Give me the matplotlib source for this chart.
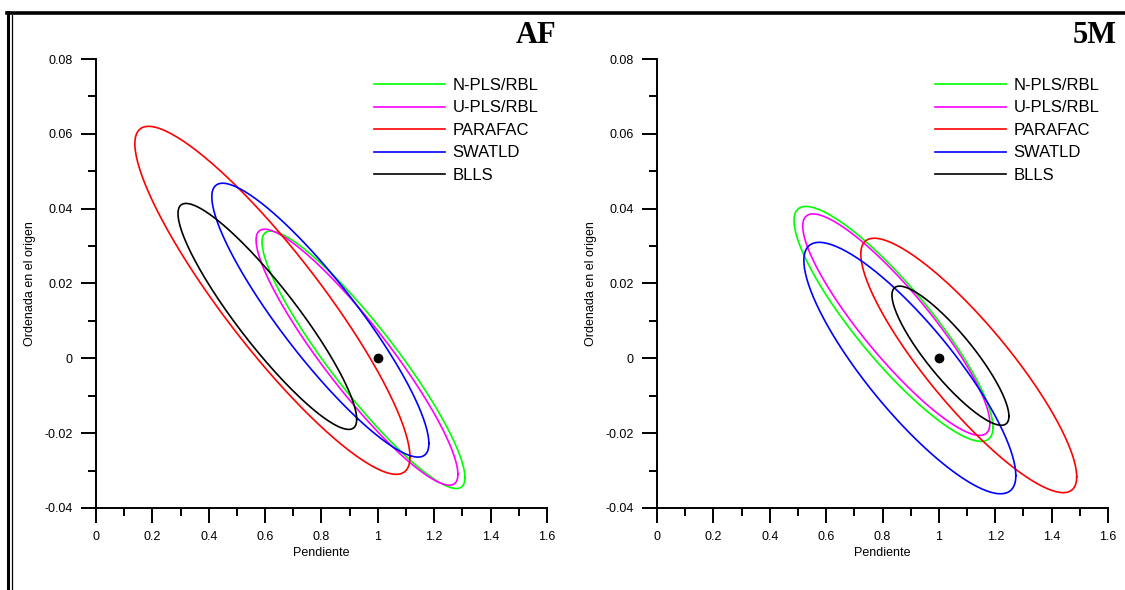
import numpy as np
import matplotlib
matplotlib.use('Agg')
import matplotlib.pyplot as plt
from matplotlib.lines import Line2D
from matplotlib.ticker import MultipleLocator

plt.rcParams['font.family'] = ['Liberation Sans', 'DejaVu Sans']

# Methods and colours
methods = ['N-PLS/RBL', 'U-PLS/RBL', 'PARAFAC', 'SWATLD', 'BLLS']
colors = ['#00ff00', '#ff00ff', '#ff0000', '#0000ff', '#000000']

# Joint confidence ellipses (slope, intercept): centre, half-ranges and correlation
# order follows methods
af_cx = [0.949, 0.926, 0.626, 0.796, 0.608]
af_cy = [-0.0004, 0.0003, 0.0155, 0.0102, 0.0112]
af_sx = [0.360, 0.358, 0.488, 0.385, 0.317]
af_sy = [0.0344, 0.0342, 0.0465, 0.0366, 0.0302]
af_r = [-0.915, -0.915, -0.90, -0.90, -0.91]

m5_cx = [0.839, 0.849, 1.106, 0.897, 1.041]
m5_cy = [0.0092, 0.0090, -0.0019, -0.0026, 0.0007]
m5_sx = [0.353, 0.332, 0.383, 0.376, 0.2075]
m5_sy = [0.0314, 0.0296, 0.0340, 0.0336, 0.0186]
m5_r = [-0.88, -0.89, -0.875, -0.855, -0.87]

# ideal point
ideal = (1.0, 0.0)

xticks = [0, 0.2, 0.4, 0.6, 0.8, 1.0, 1.2, 1.4, 1.6]
xlabels = ['0', '0.2', '0.4', '0.6', '0.8', '1', '1.2', '1.4', '1.6']
yticks = [-0.04, -0.02, 0, 0.02, 0.04, 0.06, 0.08]
ylabels = ['-0.04', '-0.02', '0', '0.02', '0.04', '0.06', '0.08']


def ellipse(cx, cy, sx, sy, r, n=200):
    t = np.linspace(0, 2 * np.pi, n)
    phi = np.arccos(r)
    return cx + sx * np.cos(t), cy + sy * np.cos(t + phi)


fig = plt.figure(figsize=(11.25, 5.9), dpi=100)

panels = [
    ('AF', [0.0853, 0.139, 0.4009, 0.761], af_cx, af_cy, af_sx, af_sy, af_r),
    ('5M', [0.584, 0.139, 0.4009, 0.761], m5_cx, m5_cy, m5_sx, m5_sy, m5_r),
]

for title, rect, cxs, cys, sxs, sys_, rs in panels:
    ax = fig.add_axes(rect)
    for i, name in enumerate(methods):
        xs, ys = ellipse(cxs[i], cys[i], sxs[i], sys_[i], rs[i])
        ax.plot(xs, ys, color=colors[i], lw=1.2, label=name)
    ax.plot(ideal[0], ideal[1], 'o', color='black', ms=6)

    ax.set_xlim(0, 1.6)
    ax.set_ylim(-0.04, 0.08)
    ax.set_xticks(xticks)
    ax.set_xticklabels(xlabels)
    ax.set_yticks(yticks)
    ax.set_yticklabels(ylabels)
    ax.xaxis.set_minor_locator(MultipleLocator(0.1))
    ax.yaxis.set_minor_locator(MultipleLocator(0.01))
    for s in ['top', 'right']:
        ax.spines[s].set_visible(False)
    for s in ['left', 'bottom']:
        ax.spines[s].set_linewidth(1.4)
    ax.tick_params(which='major', direction='out', length=10.8, width=1.4,
                   labelsize=9, pad=6)
    ax.tick_params(which='minor', direction='out', length=5.8, width=1.4)

    ax.set_xlabel('Pendiente', fontsize=9)
    ax.set_ylabel('Ordenada en el origen', fontsize=9)
    ax.xaxis.set_label_coords(0.5, -0.087)
    ax.yaxis.set_label_coords(-0.133, 0.5)

    leg = ax.legend(loc='upper left', bbox_to_anchor=(0.616, 0.958), frameon=False,
                    fontsize=12, handlelength=4.3, handletextpad=0.42,
                    labelspacing=0.45, borderpad=0, borderaxespad=0)

    ax.text(1.02, 1.053, title, transform=ax.transAxes, ha='right', va='center',
            fontsize=22, fontweight='bold', family='Liberation Serif')

# outer frame
W, H = 1125, 590
fig.add_artist(Line2D([7 / W, 1], [1 - 13.3 / H, 1 - 13.3 / H], color='black',
                      lw=2.6, transform=fig.transFigure))
fig.add_artist(Line2D([8.3 / W, 8.3 / W], [0, 1 - 11.5 / H], color='black',
                      lw=2.2, transform=fig.transFigure))
fig.add_artist(Line2D([11.7 / W, 11.7 / W], [0, 1 - 15 / H], color='black',
                      lw=0.9, transform=fig.transFigure))

fig.savefig('out.png', dpi=100)
